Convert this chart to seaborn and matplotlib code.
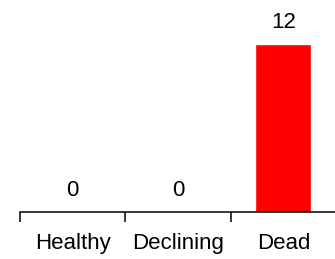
import matplotlib
matplotlib.use('Agg')
import matplotlib.pyplot as plt
import seaborn as sns
import pandas as pd

# chart data
categories = ['Healthy', 'Declining', 'Dead']
counts = [0, 0, 12]

sns.set_style('white')
plt.rcParams['font.family'] = ['Liberation Sans', 'DejaVu Sans']
plt.rcParams['text.color'] = 'black'
plt.rcParams['xtick.color'] = 'black'
plt.rcParams['xtick.labelcolor'] = 'black'

df = pd.DataFrame({'status': categories, 'count': counts})

fig = plt.figure(figsize=(3.35, 2.59), dpi=100)
ax = fig.add_axes([20 / 335, 47 / 259, 316 / 335, 212 / 259])

sns.barplot(data=df, x='status', y='count', color='#ff0000', saturation=1,
            width=0.53, ax=ax)

# value labels above bars
ax.bar_label(ax.containers[0], labels=[str(v) for v in counts],
             padding=8, fontsize=16, color='black')

ax.set_xlim(-0.5, 2.5)
ax.set_ylim(0, 15.14)
ax.set_xlabel('')
ax.set_ylabel('')
ax.set_yticks([])

# ticks at category boundaries, labels at centres
ax.set_xticks([-0.5, 0.5, 1.5])
ax.set_xticklabels([])
ax.set_xticks(range(len(categories)), minor=True)
ax.set_xticklabels(categories, minor=True, fontsize=16, color='black')
ax.tick_params(axis='x', which='major', length=7, width=1.1, direction='out',
               color='black', bottom=True)
ax.tick_params(axis='x', which='minor', length=0, pad=15)

for side in ['top', 'right', 'left']:
    ax.spines[side].set_visible(False)
ax.spines['bottom'].set_color('black')
ax.spines['bottom'].set_linewidth(1.1)

fig.savefig('out.png', dpi=100)
